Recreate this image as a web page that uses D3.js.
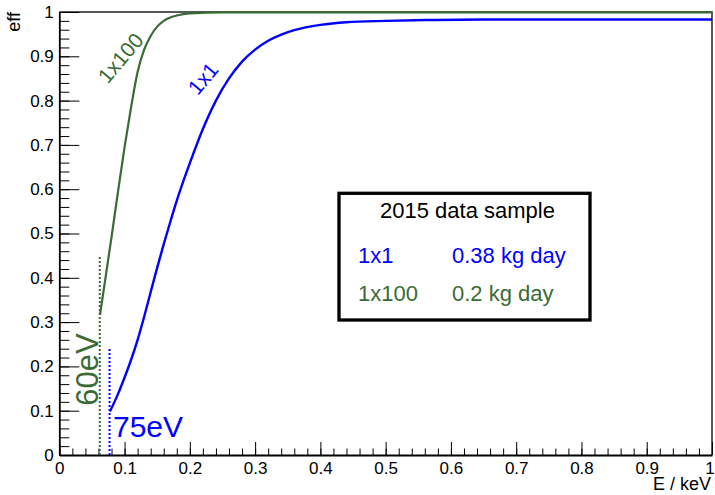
<!DOCTYPE html>
<html><head><meta charset="utf-8">
<script src="https://cdn.jsdelivr.net/npm/d3@7"></script>
<style>
body{margin:0;background:#fff;}
text{font-family:"Liberation Sans",Arial,Helvetica,sans-serif;}
</style></head>
<body><svg id="c" width="715" height="495"></svg>
<script>
// ---- data ----
const xTickValues = [0,0.1,0.2,0.3,0.4,0.5,0.6,0.7,0.8,0.9,1];
const xTickLabels = ["0","0.1","0.2","0.3","0.4","0.5","0.6","0.7","0.8","0.9","1"];
const yTickValues = [0,0.1,0.2,0.3,0.4,0.5,0.6,0.7,0.8,0.9,1];
const yTickLabels = ["0","0.1","0.2","0.3","0.4","0.5","0.6","0.7","0.8","0.9","1"];

const green_E   = [0.0623,0.07,0.08,0.09,0.10,0.11,0.12,0.13,0.14,0.15,0.16,0.18,0.20,0.25,1.0];
const green_eff = [0.316,0.392,0.492,0.595,0.695,0.785,0.865,0.915,0.946,0.967,0.980,0.992,0.997,0.999,0.999];

const blue_E   = [0.0776,0.09,0.10,0.11,0.12,0.13,0.14,0.15,0.16,0.17,0.18,0.19,0.20,0.22,0.24,0.26,0.28,0.30,0.32,0.34,0.36,0.40,0.44,0.50,0.57,0.65,1.0];
const blue_eff = [0.098,0.138,0.175,0.215,0.260,0.312,0.368,0.423,0.476,0.526,0.574,0.618,0.659,0.736,0.800,0.850,0.888,0.915,0.935,0.949,0.959,0.971,0.977,0.980,0.982,0.983,0.983];

const thresholdE   = [0.062, 0.077];      // 60 eV (1x100), 75 eV (1x1)
const thresholdTop = [0.451, 0.2415];

const legendTitle = "2015 data sample";
const legendNames = ["1x1","1x100"];
const legendExposure = ["0.38 kg day","0.2 kg day"];

const GREEN = "#3a6b35", BLUE = "#0000ff";

// ---- chart ----
const svg = d3.select("#c");
svg.append("rect").attr("width",715).attr("height",495).attr("fill","#fff");

const x = d3.scaleLinear().domain([0,1]).range([59.3,712]);
const y = d3.scaleLinear().domain([0,1]).range([455,12]);

// frame (top & right)
svg.append("path").attr("d",`M${x(0)},${y(1)}H${x(1)}V${y(0)}`)
  .attr("fill","none").attr("stroke","#222").attr("stroke-width",1.5);

// minor ticks
const minorVals = d3.range(0,1.0001,0.02);
svg.append("g").attr("transform",`translate(0,${y(0)})`)
  .call(d3.axisBottom(x).tickValues(minorVals).tickSize(-6.5).tickSizeOuter(0).tickFormat(""))
  .call(g=>g.select(".domain").remove())
  .call(g=>g.selectAll("line").attr("stroke","#000"));
svg.append("g").attr("transform",`translate(${x(0)},0)`)
  .call(d3.axisLeft(y).tickValues(minorVals).tickSize(-10).tickSizeOuter(0).tickFormat(""))
  .call(g=>g.select(".domain").remove())
  .call(g=>g.selectAll("line").attr("stroke","#000"));

// major axes
const xAx = svg.append("g").attr("transform",`translate(0,${y(0)})`)
  .call(d3.axisBottom(x).tickValues(xTickValues).tickSize(-13).tickSizeOuter(0).tickPadding(6.5)
    .tickFormat((d,i)=>xTickLabels[i]));
xAx.select(".domain").attr("stroke","#000").attr("stroke-width",1.8);
xAx.selectAll("text").attr("font-size",17).attr("fill","#000")
  .attr("font-family",'"Liberation Sans",Arial,sans-serif')
  .attr("dx",(d,i)=> i===xTickValues.length-1 ? -2.5 : 0);

const yAx = svg.append("g").attr("transform",`translate(${x(0)},0)`)
  .call(d3.axisLeft(y).tickValues(yTickValues).tickSize(-20).tickSizeOuter(0).tickPadding(5.5)
    .tickFormat((d,i)=>yTickLabels[i]));
yAx.select(".domain").attr("stroke","#000").attr("stroke-width",1.8);
yAx.selectAll("text").attr("font-size",17).attr("fill","#000")
  .attr("font-family",'"Liberation Sans",Arial,sans-serif');

// axis titles
svg.append("text").attr("x",711).attr("y",490).attr("text-anchor","end")
  .attr("font-size",18).text("E / keV");
svg.append("text").attr("transform","translate(20,12) rotate(-90)").attr("text-anchor","end")
  .attr("font-size",18).text("eff");

// threshold dotted lines
const thrColors = [GREEN, BLUE];
thresholdE.forEach((e,i)=>{
  svg.append("line").attr("x1",x(e)).attr("x2",x(e)).attr("y1",y(0)).attr("y2",y(thresholdTop[i]))
    .attr("stroke",thrColors[i]).attr("stroke-width",2).attr("stroke-dasharray","2,2");
});

// curves
const line = d3.line().x(d=>x(d[0])).y(d=>y(d[1])).curve(d3.curveMonotoneX);
svg.append("path").datum(d3.zip(green_E,green_eff)).attr("d",line)
  .attr("fill","none").attr("stroke",GREEN).attr("stroke-width",2.2);
svg.append("path").datum(d3.zip(blue_E,blue_eff)).attr("d",line)
  .attr("fill","none").attr("stroke",BLUE).attr("stroke-width",2.4);

// curve labels
svg.append("text").attr("transform","translate(120.5,58) rotate(-50)")
  .attr("text-anchor","middle").attr("dominant-baseline","central")
  .attr("font-size",21).attr("fill",GREEN).text("1x100");
svg.append("text").attr("transform","translate(203,78.5) rotate(-50)")
  .attr("text-anchor","middle").attr("dominant-baseline","central")
  .attr("font-size",21).attr("fill",BLUE).text("1x1");

svg.append("text").attr("transform","translate(98,369.5) rotate(-90)")
  .attr("text-anchor","middle").attr("font-size",31).attr("fill",GREEN).text("60eV");
svg.append("text").attr("x",113).attr("y",437)
  .attr("font-size",30).attr("fill",BLUE).text("75eV");

// legend box
svg.append("rect").attr("x",339).attr("y",193.3).attr("width",251).attr("height",126.7)
  .attr("fill","#fff").attr("stroke","#000").attr("stroke-width",3.3);
svg.append("text").attr("x",467.5).attr("y",217.7).attr("text-anchor","middle")
  .attr("font-size",22).attr("fill","#000").text(legendTitle);
const legColors = [BLUE, GREEN];
const rowY = [263, 300.7];
legendNames.forEach((n,i)=>{
  svg.append("text").attr("x",358).attr("y",rowY[i]).attr("font-size",22).attr("fill",legColors[i]).text(n);
  svg.append("text").attr("x",452).attr("y",rowY[i]).attr("font-size",22).attr("fill",legColors[i]).text(legendExposure[i]);
});
</script></body></html>
